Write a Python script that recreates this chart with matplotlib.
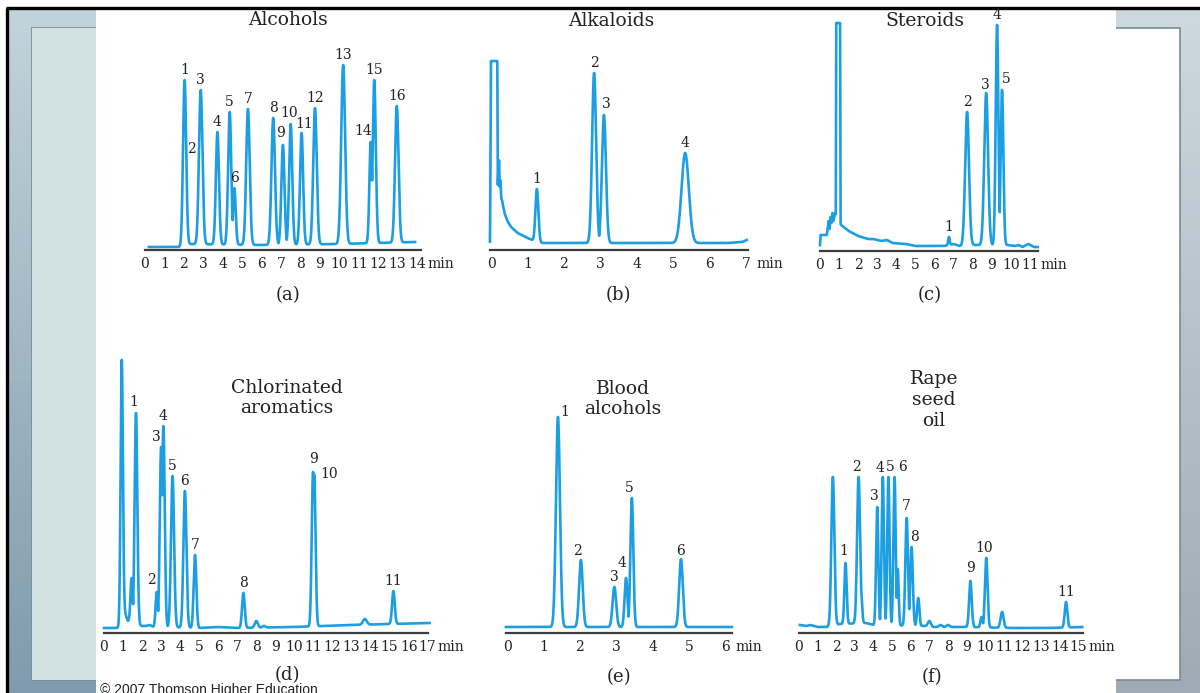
import numpy as np
import matplotlib
matplotlib.use('Agg')
import matplotlib.pyplot as plt
from matplotlib.patches import Rectangle

plt.rcParams['font.family'] = ['DejaVu Serif']

TRACE = '#1c9fe2'
AXIS = '#3c3c3c'
W, H = 1200, 693

# ---- (a) Alcohols ----
a_times   = [2.04, 2.10, 2.87, 3.73, 4.36, 4.60, 5.30, 6.60, 7.10, 7.50, 8.06, 8.75, 10.20, 11.62, 11.80, 12.96]
a_heights = [170, 90, 160, 118, 138, 62, 141, 132, 105, 126, 117, 142, 185, 108, 170, 144]
a_widths  = [0.08, 0.06, 0.09, 0.08, 0.08, 0.07, 0.09, 0.09, 0.08, 0.08, 0.08, 0.09, 0.10, 0.07, 0.08, 0.09]
a_labels  = ['1', '2', '3', '4', '5', '6', '7', '8', '9', '10', '11', '12', '13', '14', '15', '16']
a_base_t  = [0.2, 1.9, 2.2, 6.0, 10.0, 13.9]
a_base_y  = [3, 3, 6, 5, 6, 8]

# ---- (b) Alkaloids ----
b_times   = [1.26, 2.83, 3.10, 5.33]
b_heights = [61, 177, 135, 97]
b_widths  = [0.04, 0.055, 0.055, 0.10]
b_labels  = ['1', '2', '3', '4']
b_base_t  = [-0.03, 0.17, 0.19, 0.22, 0.24, 0.26, 0.28, 0.30, 0.37, 0.45, 0.55, 0.73, 1.0, 1.2, 1.4, 4.3, 6.5, 6.9, 7.02]
b_base_y  = [3, 3, 70, 90, 63, 70, 52, 50, 37, 29, 23, 17, 12, 9, 7, 7, 7, 8, 10]
b_solvent = [0.0, 0.17, 189]

# ---- (c) Steroids ----
c_times   = [6.75, 7.70, 8.70, 9.27, 9.53]
c_heights = [14, 139, 158, 226, 161]
c_widths  = [0.04, 0.10, 0.10, 0.07, 0.07]
c_labels  = ['1', '2', '3', '4', '5']
c_base_t  = [0.0, 0.03, 0.35, 0.40, 0.45, 0.50, 0.55, 0.60, 0.65, 0.70, 0.80, 1.10, 1.5, 2.0, 2.5, 2.8, 3.2,
             3.5, 3.8, 4.5, 5.0, 6.5, 7.0, 7.3, 8.0, 9.8, 10.2, 10.4, 10.6, 10.9, 11.2, 11.4]
c_base_y  = [6, 16, 16, 22, 30, 22, 34, 28, 38, 30, 38, 26, 20, 15, 12, 12, 10,
             11, 8, 7, 5, 5, 7, 5, 6, 6, 5, 6, 4, 7, 4, 4]
c_solvent = [0.85, 1.05, 228]

# ---- (d) Chlorinated aromatics ----
d_times   = [0.93, 1.45, 1.68, 2.77, 3.00, 3.12, 3.60, 4.25, 4.78, 7.32, 8.0, 8.4, 10.98, 11.04, 13.7, 15.2]
d_heights = [273, 55, 220, 41, 186, 207, 157, 142, 78, 40, 12, 7, 161, 158, 14, 42]
d_widths  = [0.06, 0.06, 0.07, 0.06, 0.07, 0.07, 0.08, 0.08, 0.07, 0.07, 0.08, 0.08, 0.07, 0.07, 0.10, 0.07]
d_labels  = ['', '', '1', '2', '3', '4', '5', '6', '7', '8', '', '', '9', '10', '', '11']
d_base_t  = [0.0, 0.85, 1.0, 1.1, 1.25, 1.6, 2.0, 2.2, 2.4, 2.6, 3.3, 5.0, 6.0, 7.0, 10.0, 13.0, 17.1]
d_base_y  = [5, 5, 28, 20, 12, 8, 7, 7, 8, 6, 6, 5, 6, 5, 6, 8, 10]

# ---- (e) Blood alcohols ----
e_times   = [1.40, 2.03, 2.95, 3.27, 3.43, 4.78]
e_heights = [216, 73, 46, 55, 135, 74]
e_widths  = [0.055, 0.05, 0.05, 0.04, 0.04, 0.05]
e_labels  = ['1', '2', '3', '4', '5', '6']
e_base_t  = [-0.03, 6.18]
e_base_y  = [6, 6]

# ---- (f) Rape seed oil ----
f_times   = [1.82, 2.50, 3.20, 3.32, 4.20, 4.50, 4.80, 5.13, 5.30, 5.78, 6.04, 6.40, 7.0, 7.6, 8.0,
             9.20, 9.80, 10.05, 10.90, 14.33]
f_heights = [156, 70, 156, 45, 126, 156, 156, 156, 64, 115, 86, 35, 12, 8, 8, 52, 16, 75, 21, 31]
f_widths  = [0.08, 0.06, 0.08, 0.06, 0.06, 0.06, 0.06, 0.06, 0.05, 0.07, 0.07, 0.06, 0.08, 0.08, 0.08,
             0.07, 0.06, 0.07, 0.08, 0.07]
f_labels  = ['', '1', '2', '', '3', '4', '5', '6', '', '7', '8', '', '', '', '', '9', '', '10', '', '11']
f_base_t  = [0.05, 0.4, 0.6, 1.0, 1.5, 2.2, 3.6, 4.0, 6.8, 7.2, 9.0, 11.5, 13.5, 15.2]
f_base_y  = [8, 7, 8, 6, 6, 9, 10, 8, 7, 6, 6, 5, 5, 6]


# label offsets (pixels, dx right / dy up) where they differ from straight above
a_offsets = {'2': (6, 11), '14': (-8, 11), '9': (-2, 12), '10': (-2, 11), '11': (3, 9)}
b_offsets = {'3': (2, 11)}
c_offsets = {'3': (-1, 8), '5': (4, 11)}
d_offsets = {'1': (-2, 11), '2': (-5, 12), '3': (-5, 10), '9': (0, 13), '10': (15, 1)}
e_offsets = {'1': (7, 5), '2': (-3, 9), '4': (-4, 15), '5': (-3, 10), '6': (0, 8)}
f_offsets = {'1': (-2, 12), '2': (-2, 10), '3': (-3, 11), '4': (-3, 9), '5': (2, 10), '6': (8, 10),
             '7': (0, 12), '8': (3, 10), '9': (0, 13), '10': (-2, 10)}


def fx(x):
    return x / W


def fy(y):
    return 1 - y / H


def draw_panel(fig, zero_px, ppm, xlim, axis_y, height, nmax,
               times, heights, widths, labels, base_t, base_y, offsets, solvent=None):
    left = zero_px + xlim[0] * ppm
    width = (xlim[1] - xlim[0]) * ppm
    ax = fig.add_axes([fx(left), fy(axis_y), width / W, height / H])
    ax.set_facecolor('none')
    ax.set_xlim(*xlim)
    ax.set_ylim(0, height)

    t = np.linspace(base_t[0], base_t[-1], 6000)
    base = np.interp(t, base_t, base_y)
    y = base.copy()
    for ti, hi, wi in zip(times, heights, widths):
        amp = hi - np.interp(ti, base_t, base_y)
        y = np.maximum(y, base + amp * np.exp(-0.5 * ((t - ti) / wi) ** 2))
    if solvent is not None:
        s0, s1, lvl = solvent
        plateau = np.where(t < s0, lvl * np.exp(-0.5 * ((t - s0) / 0.012) ** 2),
                           np.where(t > s1, lvl * np.exp(-0.5 * ((t - s1) / 0.012) ** 2), lvl))
        y = np.maximum(y, plateau)
    ax.plot(t, y, color=TRACE, lw=1.9, clip_on=False)

    for ti, hi, lab in zip(times, heights, labels):
        if not lab:
            continue
        dx, dy = offsets.get(lab, (0, 10))
        ax.annotate(lab, xy=(ti, hi), xytext=(dx, dy), textcoords='offset pixels',
                    ha='center', va='center', fontsize=10, color='#222222')

    for s in ['left', 'right', 'top']:
        ax.spines[s].set_visible(False)
    ax.spines['bottom'].set_color(AXIS)
    ax.spines['bottom'].set_linewidth(1.6)
    ax.set_yticks([])
    ticks = list(range(0, nmax + 1))
    ax.set_xticks(ticks)
    ax.set_xticklabels([str(v) for v in ticks])
    ax.tick_params(axis='x', length=0, pad=5, labelsize=10, labelcolor='#222222')
    ax.annotate('min', xy=(nmax, 0), xycoords='data', xytext=(10, -7), textcoords='offset pixels',
                ha='left', va='top', fontsize=10, color='#222222', annotation_clip=False)
    return ax


def main():
    fig = plt.figure(figsize=(12, 6.93), dpi=100)
    fig.patch.set_facecolor('white')

    # slide background
    bg = fig.add_axes([0, 0, 1, 1], zorder=-10)
    bg.set_xlim(0, W)
    bg.set_ylim(H, 0)
    bg.axis('off')
    grad = np.linspace(0, 1, 64)[:, None, None]
    top_c = np.array([0.76, 0.83, 0.86])
    bot_c = np.array([0.50, 0.61, 0.68])
    left_img = top_c + (bot_c - top_c) * grad
    bg.imshow(left_img, extent=(7, 96, H, 7), aspect='auto', zorder=0)
    rtop = np.array([0.80, 0.85, 0.87])
    rbot = np.array([0.62, 0.67, 0.71])
    right_img = rtop + (rbot - rtop) * grad
    bg.imshow(right_img, extent=(1116, W, H, 7), aspect='auto', zorder=0)
    # inner slide frame
    bg.add_patch(Rectangle((32, 28), 1148, 652, facecolor='white', edgecolor='#7d8a92', lw=1.2, zorder=1))
    bg.add_patch(Rectangle((32, 28), 64, 652, facecolor='#d2e1e4', edgecolor='none', zorder=1.5))
    # the picture itself
    bg.add_patch(Rectangle((96, 10), 1020, H - 10, facecolor='white', edgecolor='none', zorder=2))
    # black slide edge
    bg.plot([6, W], [8, 8], color='black', lw=2.4, zorder=3, solid_capstyle='butt')
    bg.plot([7, 7], [8, H], color='black', lw=2.4, zorder=3, solid_capstyle='butt')

    draw_panel(fig, 143, 19.57, (0.1, 14.2), 250, 245, 14,
               a_times, a_heights, a_widths, a_labels, a_base_t, a_base_y, a_offsets)
    draw_panel(fig, 491, 36.43, (-0.03, 7.05), 250, 245, 7,
               b_times, b_heights, b_widths, b_labels, b_base_t, b_base_y, b_offsets, b_solvent)
    draw_panel(fig, 820, 19.1, (0.0, 11.41), 251, 245, 11,
               c_times, c_heights, c_widths, c_labels, c_base_t, c_base_y, c_offsets, c_solvent)
    draw_panel(fig, 104, 19.04, (0.0, 17.0), 633, 280, 17,
               d_times, d_heights, d_widths, d_labels, d_base_t, d_base_y, d_offsets)
    draw_panel(fig, 507, 36.4, (-0.03, 6.18), 633, 280, 6,
               e_times, e_heights, e_widths, e_labels, e_base_t, e_base_y, e_offsets)
    draw_panel(fig, 798, 18.7, (0.05, 15.24), 633, 280, 15,
               f_times, f_heights, f_widths, f_labels, f_base_t, f_base_y, f_offsets)

    # panel titles
    tkw = dict(ha='center', va='center', fontsize=13.5, color='#222222', linespacing=1.2)
    fig.text(fx(288), fy(20), 'Alcohols', **tkw)
    fig.text(fx(611), fy(21), 'Alkaloids', **tkw)
    fig.text(fx(925), fy(21), 'Steroids', **tkw)
    fig.text(fx(287), fy(398), 'Chlorinated\naromatics', **tkw)
    fig.text(fx(623), fy(399), 'Blood\nalcohols', **tkw)
    fig.text(fx(934), fy(400), 'Rape\nseed\noil', **tkw)

    # panel letters
    lkw = dict(ha='center', va='center', fontsize=13, color='#222222')
    fig.text(fx(288), fy(295), '(a)', **lkw)
    fig.text(fx(618), fy(295), '(b)', **lkw)
    fig.text(fx(930), fy(295), '(c)', **lkw)
    fig.text(fx(287), fy(675), '(d)', **lkw)
    fig.text(fx(619), fy(677), '(e)', **lkw)
    fig.text(fx(932), fy(677), '(f)', **lkw)

    fig.text(fx(100), fy(683), '\u00a9 2007 Thomson Higher Education', family='Liberation Sans',
             fontsize=10, va='top', ha='left', color='#222222')

    fig.savefig('out.png', dpi=100)


if __name__ == '__main__':
    main()
